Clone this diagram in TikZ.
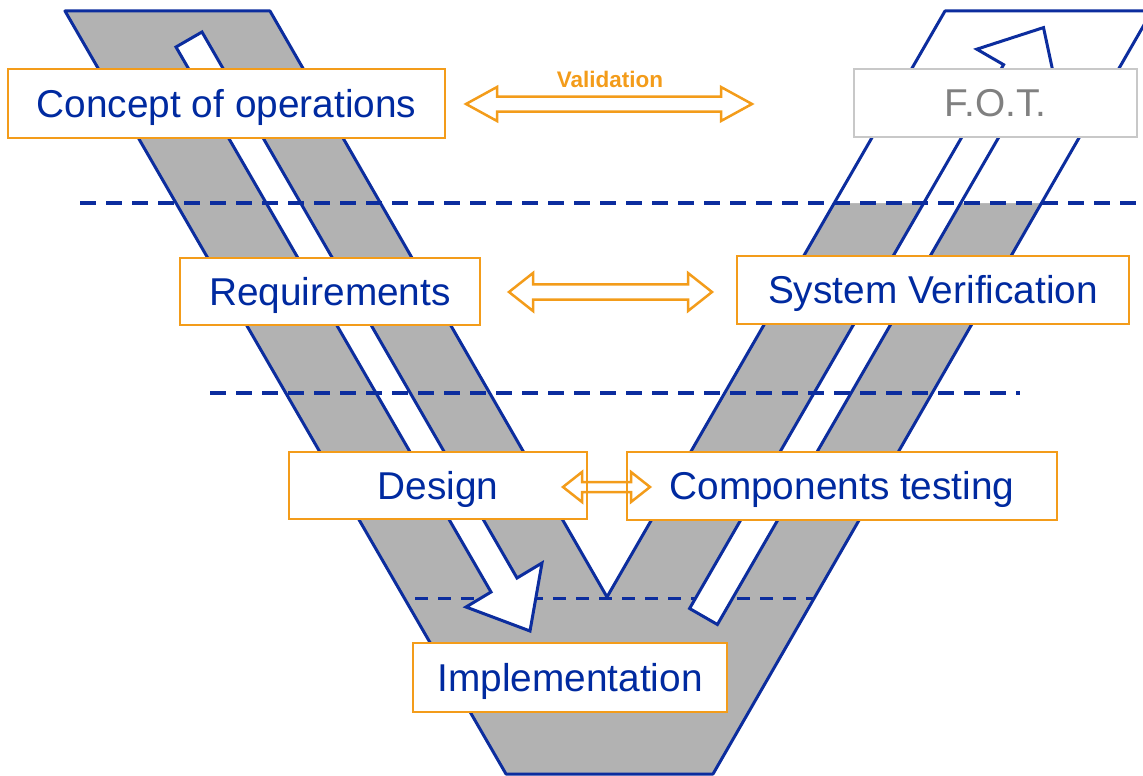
\documentclass[tikz,border=0pt]{standalone}
\usepackage{fontspec}
\setmainfont{Liberation Sans}
\definecolor{vblue}{RGB}{12,45,158}
\definecolor{txtblue}{RGB}{0,42,160}
\definecolor{orng}{RGB}{243,156,26}
\definecolor{vgray}{RGB}{178,178,178}
\definecolor{fotgray}{RGB}{128,128,128}
\definecolor{fotline}{RGB}{200,200,200}
\newcommand{\dblarr}[6]{%
  \draw[orng, line width=2.5pt, line join=miter]
    (#1,#3) -- (#1+#4,#3-#5) -- (#1+#4,#3-#6) -- (#2-#4,#3-#6) -- (#2-#4,#3-#5)
    -- (#2,#3) -- (#2-#4,#3+#5) -- (#2-#4,#3+#6) -- (#1+#4,#3+#6) -- (#1+#4,#3+#5) -- cycle;}
\tikzset{
  box/.style={draw=orng, line width=2.5pt, fill=white, text=txtblue, inner sep=0pt,
    font=\fontsize{38.8}{40}\selectfont, text height=27.5pt, text depth=0pt},
  fotbox/.style={box, draw=fotline, text=fotgray},
  vline/.style={draw=vblue, line width=3pt, line join=round},
  dline/.style={vblue, line width=4.5pt, dash pattern=on 16pt off 10pt},
  dlinethin/.style={vblue, line width=3pt, dash pattern=on 13pt off 10pt},
  inarrow/.style={vline, fill=white, line join=miter}
}
\begin{document}
\begin{tikzpicture}[x=1pt,y=-1pt]
\useasboundingbox (0,0) rectangle (1143,776);
\clip (0,0) rectangle (1143,776);
% V shape
\fill[vgray] (65,11) -- (270,11) -- (607,597) -- (945,11) -- (1152,11) -- (713,774) -- (506,774) -- cycle;
\fill[white] (945,11) -- (1152,11) -- (1041.5,203) -- (834.2,203) -- cycle;
\draw[vline] (65,11) -- (270,11) -- (607,597) -- (945,11) -- (1152,11) -- (713,774) -- (506,774) -- cycle;
% bottom dashed line
\draw[dlinethin] (415,598) -- (815,598);
% left inner arrow (down)
\draw[inarrow] (202,32) -- (176,47) -- (491,592) -- (466,607) -- (530,631) -- (542,563) -- (517,578) -- cycle;
% right inner arrow (up)
\draw[inarrow] (689.6,608.5) -- (1003.6,64.7) -- (976.8,49.2) -- (1043.5,27.6) -- (1058.2,96.2) -- (1031.4,80.7) -- (717.4,624.5) -- cycle;
% dashed lines
\draw[dline] (80,203) -- (1143,203);
\draw[dline] (210,393) -- (1020,393);
% boxes
\node[box, minimum width=437pt, minimum height=69pt] (concept) at (226.5,103.5) {Concept of operations};
\node[fotbox, minimum width=283pt, minimum height=68pt] (fot) at (995.5,103) {F.O.T.};
\node[box, minimum width=300pt, minimum height=67pt] (req) at (330,291.5) {Requirements};
\node[box, minimum width=392pt, minimum height=68pt] (sysver) at (933,290) {System Verification};
\node[box, minimum width=298pt, minimum height=67pt] (design) at (438,485.5) {Design};
\node[box, minimum width=430pt, minimum height=68pt] (comp) at (842,486) {Components testing};
\node[box, minimum width=314pt, minimum height=69pt] (impl) at (570,677.5) {Implementation};
% orange double arrows
\dblarr{466}{752}{104}{31}{17}{7.5}
\dblarr{509}{712}{292}{24}{19}{7.7}
\dblarr{563}{650}{487}{19}{15}{5}
\node[text=orng, font=\fontsize{22.5}{24}\selectfont\bfseries, inner sep=0pt, text height=16.5pt, text depth=0pt] (val) at (610,79) {Validation};
\end{tikzpicture}
\end{document}
